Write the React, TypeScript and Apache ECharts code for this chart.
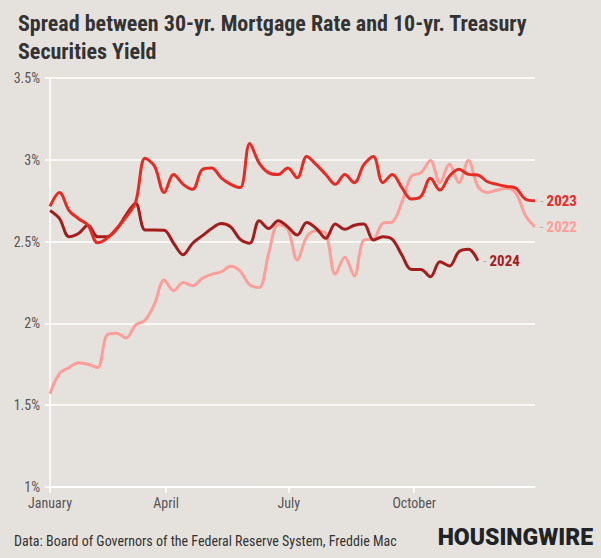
import React, { useEffect, useRef } from "react";
import * as echarts from "echarts";

// Weekly spread (percentage points), index = week of the year
const spread2022 = [
  1.57, 1.695, 1.73, 1.76, 1.75, 1.73, 1.93, 1.94, 1.91, 1.99,
  2.02, 2.12, 2.265, 2.2, 2.25, 2.23, 2.275, 2.3, 2.315, 2.35,
  2.32, 2.235, 2.22, 2.43, 2.605, 2.575, 2.388, 2.53, 2.567, 2.55,
  2.3, 2.405, 2.29, 2.51, 2.515, 2.612, 2.62, 2.74, 2.9, 2.92,
  2.995, 2.86, 2.975, 2.86, 2.995, 2.836, 2.8, 2.815, 2.826, 2.795,
  2.66, 2.59,
];
const spread2023 = [
  2.715, 2.8, 2.69, 2.64, 2.6, 2.493, 2.52, 2.58, 2.65, 2.74,
  3.01, 2.96, 2.8, 2.91, 2.85, 2.82, 2.94, 2.95, 2.89, 2.85,
  2.83, 3.1, 2.98, 2.92, 2.91, 2.95, 2.89, 3.02, 2.97, 2.91,
  2.85, 2.91, 2.86, 2.97, 3.02, 2.86, 2.91, 2.83, 2.76, 2.775,
  2.887, 2.815, 2.9, 2.942, 2.911, 2.907, 2.866, 2.85, 2.837, 2.826,
  2.759, 2.75,
];
const spread2024 = [
  2.69, 2.64, 2.53, 2.55, 2.6, 2.53, 2.53, 2.575, 2.663, 2.734,
  2.571, 2.571, 2.57, 2.49, 2.42, 2.49, 2.535, 2.58, 2.61, 2.59,
  2.514, 2.49, 2.628, 2.58, 2.628, 2.59, 2.54, 2.616, 2.58, 2.52,
  2.608, 2.575, 2.6, 2.608, 2.51, 2.53, 2.514, 2.418, 2.33, 2.33,
  2.285, 2.377, 2.351, 2.438, 2.453, 2.383,
];

const monthTickWeeks = [0, 12.2, 25.1, 38.3];
const monthLabels = ["January", "April", "July", "October"];
const yTicks = [1, 1.5, 2, 2.5, 3, 3.5];

const COLOR_2022 = "#ff9e98";
const COLOR_2023 = "#ea2a22";
const COLOR_2024 = "#a51c1c";
const COND = "'Roboto Condensed', 'Liberation Sans Narrow', 'Arial Narrow', 'DejaVu Sans Condensed', Roboto, sans-serif";

const toPairs = (arr: number[]) => arr.map((v, i) => [i, v]);

export default function App() {
  const ref = useRef<HTMLDivElement>(null);

  useEffect(() => {
    if (!ref.current) return;
    const chart = echarts.init(ref.current, null, { renderer: "svg" });

    const mkSeries = (name: string, data: number[], color: string, z: number) => ({
      name,
      type: "line",
      data: toPairs(data),
      smooth: 0.35,
      symbol: "none",
      z,
      lineStyle: { color, width: 3 },
      endLabel: {
        show: true,
        distance: 5,
        formatter: "{d|-} {y|" + name + "}",
        rich: {
          d: { color: "#aaaaaa", fontSize: 13, fontFamily: COND },
          y: { color, fontSize: 15, fontWeight: "bold", fontFamily: COND },
        },
      },
    });

    chart.setOption({
      animation: false,
      backgroundColor: "#e5e2de",
      title: {
        text: "Spread between 30-yr. Mortgage Rate and 10-yr. Treasury\nSecurities Yield",
        left: 13,
        top: 4,
        textStyle: {
          fontFamily: COND,
          fontSize: 22,
          fontWeight: "bold",
          color: "#333333",
          lineHeight: 28,
        },
      },
      grid: { left: 50, right: 66, top: 78, bottom: 71 },
      xAxis: {
        type: "value",
        min: 0,
        max: spread2022.length - 1,
        axisLine: { show: true, lineStyle: { color: "#ffffff", width: 1.5 } },
        axisTick: {
          show: true,
          length: 6,
          customValues: monthTickWeeks,
          lineStyle: { color: "#ffffff", width: 1.5 },
        },
        axisLabel: {
          customValues: monthTickWeeks,
          formatter: (v: number) => {
            const idx = monthTickWeeks.findIndex((m) => Math.abs(m - v) < 0.01);
            return idx >= 0 ? monthLabels[idx] : "";
          },
          color: "#555555",
          fontSize: 14,
          fontFamily: COND,
          margin: 9,
        },
        splitLine: { show: false },
      },
      yAxis: {
        type: "value",
        min: yTicks[0],
        max: yTicks[yTicks.length - 1],
        interval: 0.5,
        axisLine: { show: true, lineStyle: { color: "#ffffff", width: 1.5 } },
        axisTick: { show: true, length: 5, lineStyle: { color: "#ffffff", width: 1.5 } },
        axisLabel: {
          formatter: (v: number) => v + "%",
          color: "#555555",
          fontSize: 14,
          fontFamily: COND,
          margin: 10,
        },
        splitLine: { show: true, lineStyle: { color: "#ffffff", width: 1.5 } },
      },
      series: [
        mkSeries("2022", spread2022, COLOR_2022, 2),
        mkSeries("2024", spread2024, COLOR_2024, 3),
        mkSeries("2023", spread2023, COLOR_2023, 4),
      ],
      graphic: [
        {
          type: "text",
          left: 14,
          top: 534,
          style: {
            text: "Data: Board of Governors of the Federal Reserve System, Freddie Mac",
            fontFamily: COND,
            fontSize: 14,
            fill: "#333333",
          },
        },
        {
          type: "text",
          right: 8,
          top: 526,
          style: {
            text: "HOUSINGWIRE",
            fontFamily: "Roboto, sans-serif",
            fontSize: 23,
            fontWeight: 900,
            fill: "#1f2326",
          },
        },
      ],
    });

    return () => chart.dispose();
  }, []);

  return <div ref={ref} style={{ width: 601, height: 558, position: "absolute", left: 0, top: 0 }} />;
}
